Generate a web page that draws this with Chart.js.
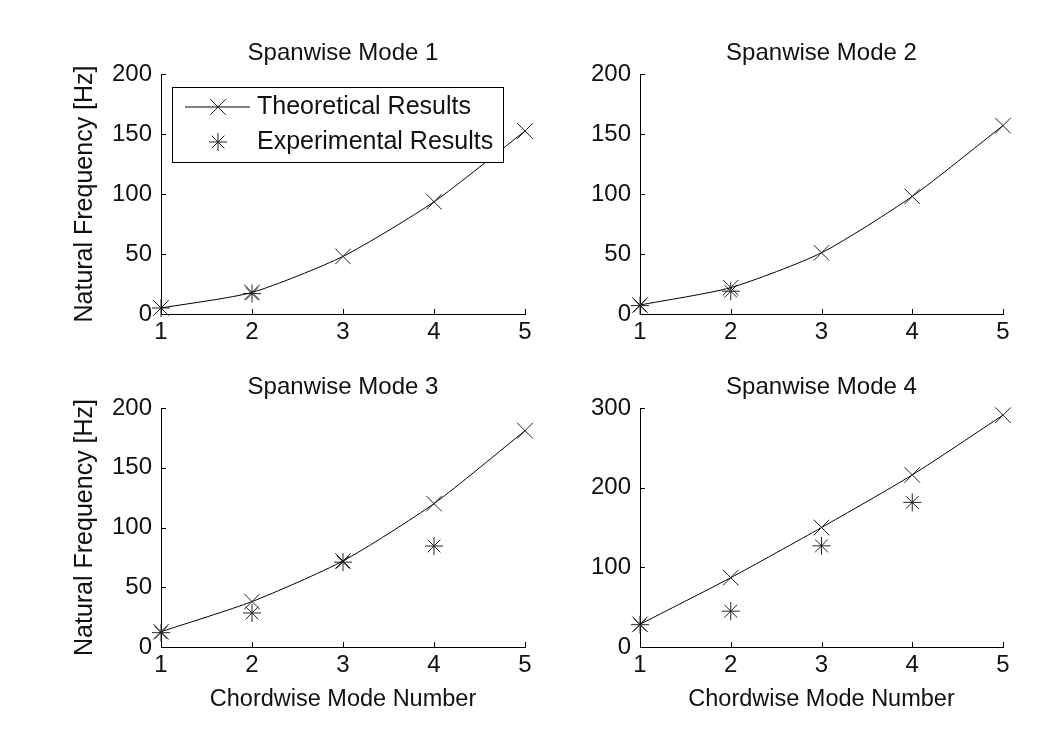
<!DOCTYPE html>
<html>
<head>
<meta charset="utf-8">
<script src="https://cdn.jsdelivr.net/npm/chart.js@4.4.0/dist/chart.umd.min.js"></script>
<style>
  html, body { margin: 0; padding: 0; background: #fff; }
  #fig { position: relative; width: 1046px; height: 736px; background: #fff; overflow: hidden; }
  #fig canvas { position: absolute; }
</style>
</head>
<body>
<div id="fig">
  <canvas id="c1"></canvas>
  <canvas id="c2"></canvas>
  <canvas id="c3"></canvas>
  <canvas id="c4"></canvas>
</div>
<script>
// values
var chordModes = [1, 2, 3, 4, 5];
var subplotTitles = ['Spanwise Mode 1', 'Spanwise Mode 2', 'Spanwise Mode 3', 'Spanwise Mode 4'];
var seriesLabels = ['Theoretical Results', 'Experimental Results'];
var xTitle = 'Chordwise Mode Number';
var yTitle = 'Natural Frequency [Hz]';

var theoretical1 = [5, 18, 48, 93.5, 152.5];
var experimental1 = [5, 17, null, null, null];
var theoretical2 = [7.5, 22, 51, 98, 157];
var experimental2 = [7, 19, null, null, null];
var theoretical3 = [12.8, 38, 72, 120, 181];
var experimental3 = [12, 28.5, 71, 84.5, null];
var theoretical4 = [28.5, 87, 150, 216, 291];
var experimental4 = [28, 45, 127, 181.5, null];

var yMaxes = [200, 200, 200, 300];
var ySteps = [50, 50, 50, 100];

var FONT = '"Liberation Sans", Arial, Helvetica, sans-serif';
var FS = 24;
Chart.defaults.color = '#111';
Chart.defaults.font.family = FONT;

// page layout of each subplot (canvas box + fixed axis sizes)
var panels = [
  {id: 'c1', left: 30, top: 20, width: 520, height: 340, yW: 131, padR: 25, tTop: 18.6, tBot: 6.6, xH: 46, showY: true, showX: false},
  {id: 'c2', left: 560, top: 20, width: 486, height: 340, yW: 80, padR: 43, tTop: 18.6, tBot: 6.6, xH: 46, showY: false, showX: false},
  {id: 'c3', left: 30, top: 355, width: 520, height: 381, yW: 131, padR: 25, tTop: 17.6, tBot: 6.6, xH: 89, showY: true, showX: true},
  {id: 'c4', left: 560, top: 355, width: 486, height: 381, yW: 80, padR: 43, tTop: 17.6, tBot: 6.6, xH: 89, showY: false, showX: true}
];

var theorySets = [theoretical1, theoretical2, theoretical3, theoretical4];
var experSets = [experimental1, experimental2, experimental3, experimental4];

function toPoints(ys) {
  var pts = [];
  for (var i = 0; i < chordModes.length; i++) {
    if (ys[i] !== null) pts.push({x: chordModes[i], y: ys[i]});
  }
  return pts;
}

// MATLAB style ticks pointing into the axes
var inwardTicks = {
  id: 'inwardTicks',
  beforeDatasetsDraw: function(chart) {
    var ctx = chart.ctx, area = chart.chartArea;
    var xs = chart.scales.x, ys = chart.scales.y;
    ctx.save();
    ctx.strokeStyle = '#000';
    ctx.lineWidth = 1;
    ctx.beginPath();
    xs.ticks.forEach(function(t) {
      var px = Math.round(xs.getPixelForValue(t.value)) + 0.5;
      ctx.moveTo(px, area.bottom);
      ctx.lineTo(px, area.bottom - 5);
    });
    ys.ticks.forEach(function(t) {
      var py = Math.round(ys.getPixelForValue(t.value)) + 0.5;
      ctx.moveTo(area.left, py);
      ctx.lineTo(area.left + 5, py);
    });
    ctx.stroke();
    ctx.restore();
  }
};

// boxed legend sitting inside the first axes
var boxLegend = {
  id: 'boxLegend',
  afterDatasetsDraw: function(chart, args, opts) {
    if (!opts.display) return;
    var ctx = chart.ctx, area = chart.chartArea;
    var x0 = Math.round(area.left + opts.offsetX), y0 = Math.round(area.top + opts.offsetY);
    ctx.save();
    ctx.fillStyle = '#fff';
    ctx.fillRect(x0, y0, opts.width, opts.height);
    ctx.strokeStyle = '#000';
    ctx.lineWidth = 1;
    ctx.strokeRect(x0 + 0.5, y0 + 0.5, opts.width, opts.height);
    ctx.font = opts.fontSize + 'px ' + FONT;
    ctx.textBaseline = 'middle';
    ctx.textAlign = 'left';
    chart.data.datasets.forEach(function(ds, i) {
      var cy = y0 + opts.rows[i];
      ctx.strokeStyle = ds.borderColor;
      ctx.lineWidth = 1;
      if (ds.showLine !== false) {
        ctx.beginPath();
        ctx.moveTo(x0 + 13, cy);
        ctx.lineTo(x0 + 78, cy);
        ctx.stroke();
      }
      ctx.strokeStyle = ds.pointBorderColor;
      Chart.helpers.drawPoint(ctx, {pointStyle: ds.pointStyle, radius: ds.pointRadius, rotation: 0, borderWidth: 1}, x0 + 46, cy);
      ctx.fillStyle = '#111';
      ctx.fillText(ds.label, x0 + 85, cy);
    });
    ctx.restore();
  }
};

panels.forEach(function(p, k) {
  var cv = document.getElementById(p.id);
  cv.width = p.width;
  cv.height = p.height;
  cv.style.left = p.left + 'px';
  cv.style.top = p.top + 'px';

  new Chart(cv, {
    type: 'line',
    data: {
      datasets: [
        {
          label: seriesLabels[0],
          data: toPoints(theorySets[k]),
          borderColor: '#000',
          borderWidth: 1,
          tension: 0.22,
          pointStyle: 'crossRot',
          pointRadius: 11,
          pointBorderWidth: 1,
          pointBorderColor: '#222',
          pointBackgroundColor: '#222',
          clip: false
        },
        {
          label: seriesLabels[1],
          data: toPoints(experSets[k]),
          showLine: false,
          borderColor: '#222',
          pointStyle: 'star',
          pointRadius: 9,
          pointBorderWidth: 1,
          pointBorderColor: '#222',
          pointBackgroundColor: '#222',
          clip: false
        }
      ]
    },
    options: {
      responsive: false,
      devicePixelRatio: 1,
      animation: false,
      events: [],
      layout: {padding: {left: 0, top: 0, right: p.padR, bottom: 0}},
      plugins: {
        legend: {display: false},
        tooltip: {enabled: false},
        title: {
          display: true,
          text: subplotTitles[k],
          fullSize: false,
          color: '#111',
          font: {size: FS, weight: 'normal', family: FONT},
          padding: {top: p.tTop, bottom: p.tBot}
        },
        boxLegend: {
          display: k === 0,
          offsetX: 11, offsetY: 13, width: 331, height: 75,
          rows: [20, 55], fontSize: 25
        }
      },
      scales: {
        x: {
          type: 'linear',
          min: 1, max: 5,
          grid: {display: false, drawTicks: false},
          border: {display: true, color: '#000', width: 1},
          ticks: {stepSize: 1, padding: 4, color: '#111', font: {size: FS, family: FONT}},
          title: {
            display: p.showX, text: xTitle, color: '#111',
            font: {size: 23.5, family: FONT},
            padding: {top: 0, bottom: 22.6}
          },
          afterFit: function(s) { s.height = p.xH; }
        },
        y: {
          type: 'linear',
          min: 0, max: yMaxes[k],
          grid: {display: false, drawTicks: false},
          border: {display: true, color: '#000', width: 1},
          ticks: {stepSize: ySteps[k], padding: 9, color: '#111', font: {size: FS, family: FONT}},
          title: {
            display: p.showY, text: yTitle, color: '#111',
            font: {size: 25, family: FONT},
            padding: {top: 40, bottom: 0}
          },
          afterFit: function(s) { s.width = p.yW; }
        }
      }
    },
    plugins: [inwardTicks, boxLegend]
  });
});
</script>
</body>
</html>
